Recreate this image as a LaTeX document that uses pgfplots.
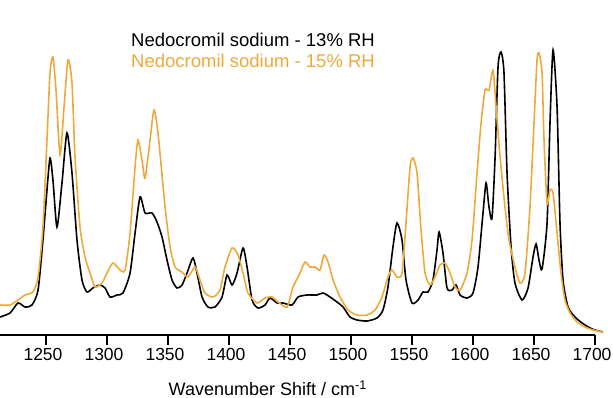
\documentclass[border=0pt]{standalone}
\usepackage{pgfplots}
\pgfplotsset{compat=1.18}
\usepackage{fontspec}
\setmainfont{Liberation Sans}
\definecolor{orng}{HTML}{EFA93A}
\begin{document}
\begin{tikzpicture}
\useasboundingbox (0pt,-63pt) rectangle (613pt,335pt);
\begin{axis}[
  scale only axis, width=595pt, height=297pt,
  xmin=1212.3, xmax=1700, ymin=2, ymax=299,
  clip=false,
  axis x line*=bottom, axis y line=none,
  axis line style={line width=1.3pt, -},
  tick align=outside, major tick length=10pt,
  xtick={1250,1300,...,1700},
  xtick style={line width=1.1pt, black},
  /pgf/number format/assume math mode=true,
  /pgf/number format/1000 sep={},
  ticklabel style={font=\fontsize{17.5}{20}\selectfont, xshift=-3pt},
  xlabel={Wavenumber Shift / cm\textsuperscript{-1}},
  xlabel style={font=\fontsize{18}{20}\selectfont, at={(axis description cs:0.45,0)}, anchor=north, yshift=-42pt},
]
\addplot[black, line width=1.6pt, smooth, tension=0.4] coordinates {
(1212.3,20)(1220.5,24)(1227.1,34)(1232.8,30)(1238.5,32)(1243.5,47)(1247.5,97)(1250.8,147)(1253.3,179)(1255.7,157)(1259.0,110)(1263.1,154)(1267.2,204)(1271.3,164)(1275.4,97)(1279.5,57)(1283.6,45)(1288.5,49)(1294.3,52)(1298.4,49)(1302.5,40)(1308.2,42)(1313.1,44)(1318.9,64)(1323.0,104)(1327.1,140)(1331.2,124)(1336.9,124)(1341.0,115)(1345.1,100)(1349.2,77)(1353.3,57)(1357.4,49)(1361.5,52)(1365.6,64)(1370.5,79)(1373.8,64)(1377.9,40)(1382.8,30)(1388.5,30)(1394.3,40)(1398.4,62)(1402.5,52)(1406.6,64)(1411.5,89)(1414.8,70)(1418.9,37)(1423.8,29)(1429.5,32)(1433.6,39)(1439.4,34)(1444.3,34)(1451.7,32)(1456.6,40)(1464.0,42)(1472.1,42)(1477.1,44)(1482.8,40)(1488.5,35)(1493.5,30)(1499.2,20)(1504.9,17)(1513.1,16)(1521.3,19)(1526.2,27)(1530.3,50)(1534.4,90)(1537.7,114)(1541.8,97)(1545.1,57)(1550.0,34)(1555.0,37)(1559.0,45)(1563.1,45)(1567.2,57)(1570.5,87)(1572.2,105)(1575.4,84)(1578.7,49)(1582.8,47)(1586.1,52)(1589.4,42)(1595.1,39)(1600.0,44)(1604.1,70)(1608.2,124)(1610.7,154)(1613.1,130)(1615.6,119)(1618.1,180)(1620.5,270)(1623.0,285)(1625.4,264)(1627.9,164)(1631.2,90)(1634.4,54)(1640.2,37)(1645.1,49)(1649.2,80)(1651.7,93)(1654.1,77)(1656.6,68)(1660.7,114)(1663.1,214)(1665.6,287)(1668.9,230)(1671.3,114)(1673.8,57)(1677.9,30)(1683.6,20)(1689.4,14)(1696.0,9)(1700.0,7)(1706.6,5)
};
\addplot[orng, line width=1.6pt, smooth, tension=0.4] coordinates {
(1212.3,32)(1220.5,32)(1227.1,37)(1232.8,42)(1239.3,45)(1243.5,60)(1247.5,110)(1250.8,197)(1253.3,264)(1255.7,280)(1258.2,247)(1261.5,182)(1264.8,230)(1268.0,277)(1271.3,254)(1273.8,180)(1277.9,110)(1282.0,80)(1286.1,64)(1290.2,50)(1295.9,54)(1300.0,64)(1304.9,74)(1310.7,67)(1314.8,67)(1318.9,104)(1323.0,170)(1325.4,197)(1328.7,177)(1331.2,159)(1335.3,197)(1338.5,227)(1341.8,204)(1347.6,130)(1351.7,90)(1355.8,70)(1361.5,65)(1366.4,60)(1372.2,70)(1376.2,57)(1380.3,44)(1386.9,40)(1392.6,47)(1396.7,70)(1402.5,89)(1407.4,82)(1411.5,64)(1415.6,44)(1423.0,34)(1429.5,39)(1435.3,40)(1440.2,35)(1447.6,30)(1452.5,50)(1458.2,64)(1462.3,75)(1466.4,70)(1470.5,70)(1474.6,67)(1477.9,82)(1481.2,75)(1485.3,57)(1491.0,40)(1497.6,27)(1504.9,22)(1513.1,22)(1519.7,27)(1525.4,40)(1530.3,60)(1533.6,67)(1537.7,60)(1541.8,64)(1545.1,114)(1548.4,170)(1550.8,179)(1554.1,164)(1557.4,107)(1560.7,64)(1564.8,52)(1568.9,60)(1573.0,72)(1577.1,74)(1581.2,64)(1585.3,50)(1589.4,47)(1595.1,64)(1599.2,97)(1603.3,164)(1606.6,214)(1609.9,247)(1613.1,247)(1616.4,267)(1618.9,230)(1622.2,180)(1626.2,130)(1629.5,97)(1634.4,70)(1638.5,54)(1642.6,64)(1646.7,130)(1650.0,214)(1652.5,277)(1654.1,284)(1656.6,264)(1658.2,197)(1660.7,134)(1663.1,147)(1665.6,144)(1668.9,104)(1672.1,64)(1675.4,37)(1679.6,24)(1685.3,15)(1691.8,10)(1698.4,7)(1706.6,5)
};
\end{axis}
\node[anchor=base west, text=black, font=\fontsize{18.5}{20}\selectfont, inner sep=0pt] at (131pt,288pt) {Nedocromil sodium - 13\% RH};
\node[anchor=base west, text=orng, font=\fontsize{18.5}{20}\selectfont, inner sep=0pt] at (131pt,267pt) {Nedocromil sodium - 15\% RH};
\end{tikzpicture}
\end{document}
